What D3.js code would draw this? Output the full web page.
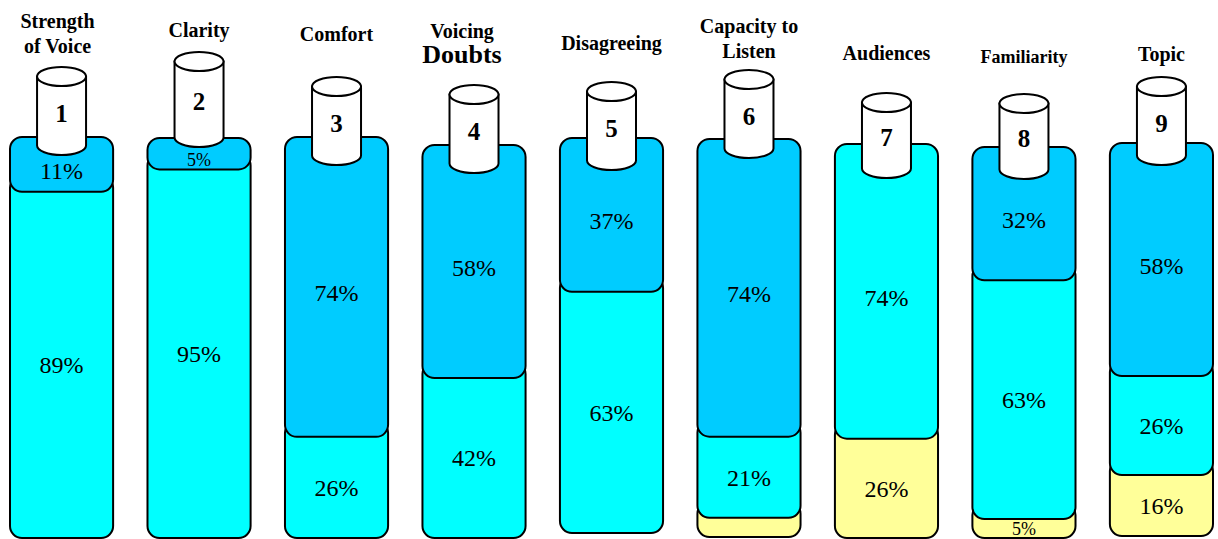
<!DOCTYPE html>
<html>
<head>
<meta charset="utf-8">
<script src="https://cdn.jsdelivr.net/npm/d3@7"></script>
<style>
  html, body { margin: 0; padding: 0; background: #ffffff; }
  svg { display: block; }
</style>
</head>
<body>
<script>
// Column headings (one entry per line) and the numbers shown on each cap
const categories = [
  ["Strength", "of Voice"], ["Clarity"], ["Comfort"], ["Voicing", "Doubts"],
  ["Disagreeing"], ["Capacity to", "Listen"], ["Audiences"], ["Familiarity"], ["Topic"]
];
const capNumbers = ["1", "2", "3", "4", "5", "6", "7", "8", "9"];

// Shares (%) in each column, top to bottom
const upperShare  = [11, 5, 74, 58, 37, 74, 0, 32, 58];   // blue
const middleShare = [89, 95, 26, 42, 63, 21, 74, 63, 26]; // cyan
const lowerShare  = [0, 0, 0, 0, 0, 5, 26, 5, 16];        // pale yellow
const lowerLabelShown = [true, true, true, true, true, false, true, true, true];

// Layout of the hand-placed frames, caps and headings
const W = 1218, H = 539;
const frameTop    = [137, 138, 137, 145, 138, 139, 144, 147, 143];
const frameBottom = [538, 538, 538, 538, 533, 537, 538, 538, 536];
const capTop      = [67, 52, 77, 85, 82, 70, 93, 94, 77];
const capBottom   = [155, 147, 165, 173, 170, 158, 178, 179, 165];
const titleBase   = [53, 37, 41, 63, 50, 58, 60, 63, 61];
const titleShift  = [-4, 0, 0, -12, 0, 0, 0, 0, 0];
const titleSize   = { "Doubts": 26, "Familiarity": 18 };

const segColors = ["#00CCFF", "#00FFFF", "#FFFF99"];
const capInset = 12;   // space under the cap before the 0% line
const overlap = 16;    // how far a lower block tucks under the one above
const corner = 12;

const svg = d3.select("body").append("svg")
  .attr("width", W).attr("height", H)
  .attr("viewBox", `0 0 ${W} ${H}`);

const x = d3.scaleBand()
  .domain(d3.range(categories.length))
  .range([10, 1213])
  .paddingInner(0.25)
  .paddingOuter(0);

const serif = "'Liberation Serif', 'Times New Roman', Times, serif";

categories.forEach((lines, i) => {
  const g = svg.append("g").attr("class", "column");
  const x0 = x(i), bw = x.bandwidth(), cx = x0 + bw / 2;
  const y = d3.scaleLinear().domain([0, 100])
    .range([frameTop[i] + capInset, frameBottom[i]]);

  const values = [upperShare[i], middleShare[i], lowerShare[i]];
  const shown = [true, true, lowerLabelShown[i]];
  let acc = 0;
  const segs = [];
  values.forEach((v, k) => {
    if (v > 0) segs.push({ k, v, start: acc, end: acc + v, label: shown[k] });
    acc += v;
  });

  // blocks: bottom one first so each upper block sits over the one below
  segs.slice().reverse().forEach(s => {
    const isFirst = s === segs[0];
    const top = isFirst ? frameTop[i] : y(s.start) - overlap;
    const bottom = y(s.end);
    g.append("rect")
      .attr("x", x0).attr("y", top)
      .attr("width", bw).attr("height", bottom - top)
      .attr("rx", corner).attr("ry", corner)
      .attr("fill", segColors[s.k])
      .attr("stroke", "#000").attr("stroke-width", 2);
  });

  // percentage labels
  segs.forEach(s => {
    if (!s.label) return;
    const small = s.v <= 5;
    const cy = (y(s.start) + y(s.end)) / 2;
    g.append("text")
      .attr("x", cx).attr("y", cy)
      .attr("dy", "0.35em")
      .attr("text-anchor", "middle")
      .attr("font-family", serif)
      .attr("font-size", small ? 18 : 24)
      .attr("fill", "#000")
      .text(s.v + "%");
  });

  // cylinder cap
  const rx = 24.5, ry = 9.5;
  const tcy = capTop[i] + ry, bcy = capBottom[i] - ry;
  g.append("path")
    .attr("d", `M${cx - rx},${tcy} L${cx - rx},${bcy} A${rx},${ry} 0 0 0 ${cx + rx},${bcy} L${cx + rx},${tcy} Z`)
    .attr("fill", "#fff").attr("stroke", "#000").attr("stroke-width", 2);
  g.append("ellipse")
    .attr("cx", cx).attr("cy", tcy).attr("rx", rx).attr("ry", ry)
    .attr("fill", "#fff").attr("stroke", "#000").attr("stroke-width", 2);
  g.append("text")
    .attr("x", cx).attr("y", (capTop[i] + capBottom[i]) / 2 + 2)
    .attr("dy", "0.35em")
    .attr("text-anchor", "middle")
    .attr("font-family", serif)
    .attr("font-weight", "bold")
    .attr("font-size", 25)
    .text(capNumbers[i]);

  // heading
  const lineGap = 25;
  lines.forEach((line, j) => {
    svg.append("text")
      .attr("x", cx + titleShift[i])
      .attr("y", titleBase[i] - (lines.length - 1 - j) * lineGap)
      .attr("text-anchor", "middle")
      .attr("font-family", serif)
      .attr("font-weight", "bold")
      .attr("font-size", titleSize[line] || 20)
      .attr("fill", "#000")
      .text(line);
  });
});
</script>
</body>
</html>
